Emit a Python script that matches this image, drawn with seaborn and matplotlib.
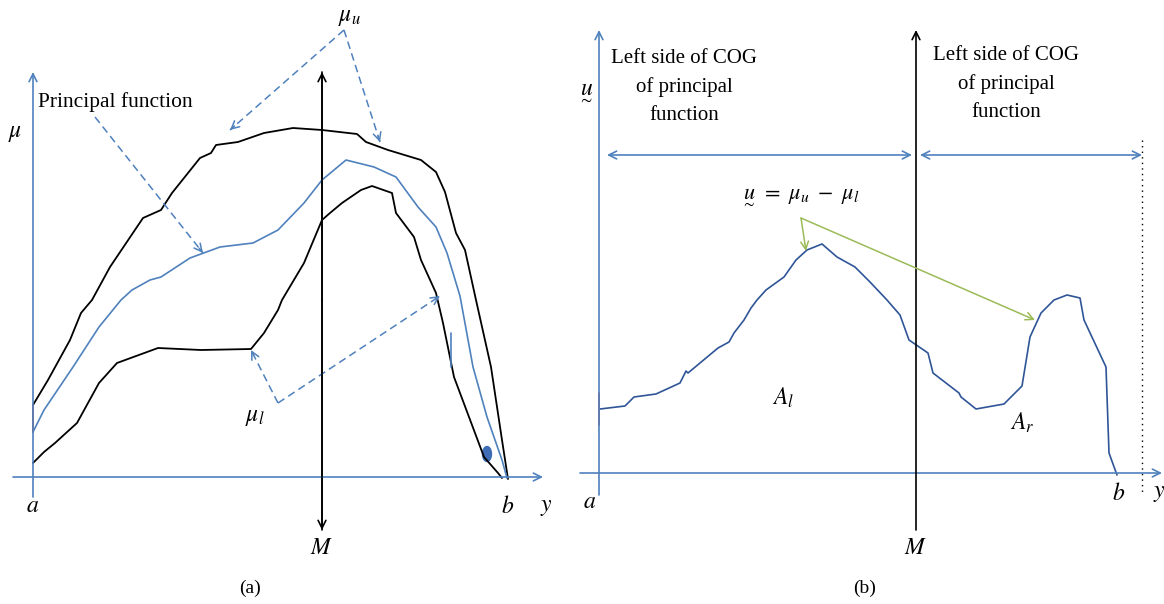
import numpy as np
import pandas as pd
import matplotlib
matplotlib.use("Agg")
import matplotlib.pyplot as plt
import seaborn as sns
from matplotlib.patches import Ellipse

# curve traces (pixel units of the 1164x604 original)
upper_x = [33, 48, 59, 70, 81, 92, 110, 143, 161, 172, 200, 211, 216, 238, 264, 293, 322, 357,
           366, 388, 421, 436, 445, 456, 465, 476, 491, 502, 508]
upper_y = [405, 380, 360, 340, 313, 300, 267, 218, 210, 193, 158, 153, 145, 142, 133, 128, 130, 134,
           142, 150, 160, 172, 192, 233, 250, 300, 367, 440, 479]

principal_x = [33, 44, 73, 99, 121, 132, 150, 161, 190, 220, 253, 278, 304, 322, 346, 374, 396,
               418, 436, 447, 460, 473, 487, 502, 507]
principal_y = [432, 410, 367, 327, 300, 290, 280, 277, 258, 247, 243, 230, 203, 180, 160, 167, 177,
               207, 227, 253, 296, 367, 417, 460, 478]

lower_x = [33, 44, 55, 77, 88, 99, 117, 158, 201, 251, 264, 278, 282, 304, 322, 330, 342, 361,
           372, 392, 396, 414, 421, 436, 443, 454, 469, 484, 498, 502]
lower_y = [463, 452, 443, 423, 403, 383, 363, 348, 350, 349, 333, 310, 300, 263, 220, 213, 203,
           190, 186, 193, 213, 237, 260, 293, 323, 377, 417, 457, 473, 478]

diff_x = [600, 625, 634, 656, 680, 686, 688, 718, 729, 734, 744, 751, 757, 766, 784, 796, 807,
          822, 837, 855, 870, 887, 900, 909, 928, 933, 946, 959, 961, 976, 1004, 1013, 1022,
          1030, 1041, 1054, 1067, 1080, 1084, 1106, 1109, 1117]
diff_y = [409, 406, 397, 394, 383, 371, 373, 348, 342, 333, 320, 308, 300, 290, 277, 260, 250,
          244, 257, 267, 282, 300, 315, 340, 353, 373, 383, 393, 397, 409, 404, 395, 386,
          337, 313, 300, 295, 298, 320, 367, 453, 475]

left_text = "Left side of COG\nof principal\nfunction"
right_text = "Left side of COG\nof principal\nfunction"

BLUE = "#4F81BD"
DARK = "#2F5597"
GREEN = "#9BBB59"
RED = "#C0504D"

sns.set_theme(style="white")
plt.rcParams["font.family"] = ["Liberation Serif", "DejaVu Serif"]
plt.rcParams["mathtext.fontset"] = "stix"
plt.rcParams["text.color"] = "black"

fig = plt.figure(figsize=(11.64, 6.04), dpi=100)
ax = fig.add_axes([0, 0, 1, 1])
ax.set_xlim(0, 1164)
ax.set_ylim(604, 0)
ax.axis("off")


def arrow(start, end, color, lw=1.2, style="->", ms=14):
    ax.annotate("", xy=end, xytext=start,
                arrowprops=dict(arrowstyle=style, color=color, lw=lw,
                                shrinkA=0, shrinkB=0, mutation_scale=ms))


def dashed_arrow(start, end, color=BLUE):
    ax.plot([start[0], end[0]], [start[1], end[1]], ls=(0, (5, 3)), color=color, lw=1.1)
    d = np.array(end, float) - np.array(start, float)
    back = np.array(end, float) - d / np.linalg.norm(d) * 6
    arrow(tuple(back), end, color, lw=1.1)


def math_label(x, y, s, size=17):
    ax.text(x, y, s, ha="center", va="center", fontsize=size)


# ---------- panel (a) ----------
arrow((33, 497), (33, 72), BLUE)
arrow((13, 477), (543, 477), BLUE)
arrow((322, 300), (322, 72), "black")
arrow((322, 300), (322, 530), "black")
ax.plot([322, 322], [72, 530], color="black", lw=1.2)

sns.lineplot(x=upper_x, y=upper_y, sort=False, estimator=None, color="black", lw=1.3, ax=ax)
sns.lineplot(x=principal_x, y=principal_y, sort=False, estimator=None, color=BLUE, lw=1.2, ax=ax)
sns.lineplot(x=lower_x, y=lower_y, sort=False, estimator=None, color="black", lw=1.3, ax=ax)
ax.plot([33, 33], [405, 432], color=RED, lw=1.3)
ax.plot([451, 451], [333, 367], color=BLUE, lw=1.2)
ax.add_patch(Ellipse((487, 454), 9, 15, color="#3E6DB5"))

dashed_arrow((344, 30), (230, 130))
dashed_arrow((344, 30), (380, 142))
dashed_arrow((95, 117), (203, 253))
dashed_arrow((278, 403), (251, 350))
dashed_arrow((278, 403), (440, 296))

ax.text(38, 102, "Principal function", ha="left", va="center", fontsize=15.5)
math_label(15, 134, r"$\mu$")
math_label(350, 17, r"$\mu_u$")
math_label(255, 418, r"$\mu_l$")
math_label(33, 507, r"$a$")
math_label(508, 507, r"$b$")
math_label(546, 507, r"$y$")
math_label(322, 548, r"$M$")
ax.text(250, 588, "(a)", ha="center", va="center", fontsize=14)

# ---------- panel (b) ----------
arrow((599, 495), (599, 30), BLUE)
arrow((580, 473), (1162, 473), BLUE)
arrow((916, 530), (916, 30), "black")
ax.plot([1142, 1142], [140, 495], color="black", lw=1.0, ls=(0, (1, 3)))
arrow((607, 155), (912, 155), BLUE, style="<->")
arrow((920, 155), (1142, 155), BLUE, style="<->")

sns.lineplot(x=diff_x, y=diff_y, sort=False, estimator=None, color=DARK, lw=1.2, ax=ax)
ax.plot([599, 599], [393, 425], color=RED, lw=1.3)

arrow((801, 218), (806, 251), GREEN, lw=1.1)
arrow((801, 218), (1035, 320), GREEN, lw=1.1)

ax.text(684, 87, left_text, ha="center", va="center", fontsize=15, linespacing=1.6)
ax.text(1006, 84, right_text, ha="center", va="center", fontsize=15, linespacing=1.6)

math_label(586, 92, r"$\underset{\sim}{u}$")
math_label(800, 196, r"$\underset{\sim}{u}\ =\ \mu_u\ -\ \mu_l$", size=16)
math_label(783, 398, r"$A_l$")
math_label(1022, 423, r"$A_r$")
math_label(590, 502, r"$a$")
math_label(1119, 494, r"$b$")
math_label(1159, 494, r"$y$")
math_label(916, 548, r"$M$")
ax.text(865, 588, "(b)", ha="center", va="center", fontsize=14)

fig.savefig("out.png", dpi=100)
